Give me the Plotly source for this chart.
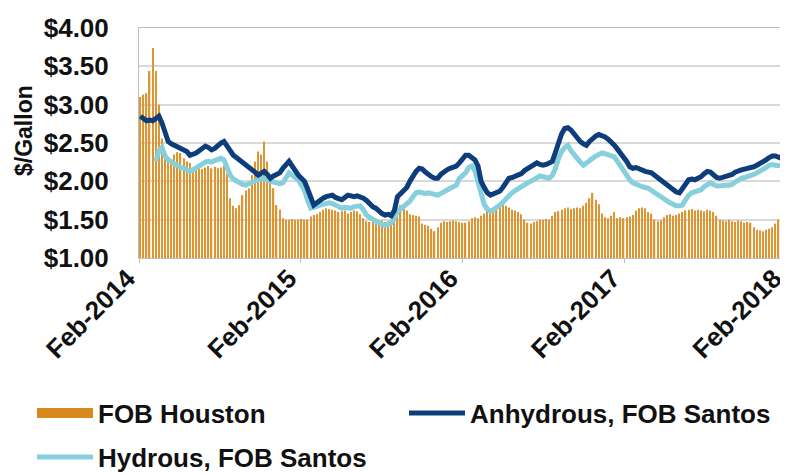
import pandas as pd
import plotly.graph_objects as go

# ---- data (weekly) ----
start_date = "2014-02-03"
n_weeks = 211
weeks = pd.date_range(start_date, periods=n_weeks, freq="7D")

fob_houston = [
    3.10, 3.13, 3.15, 3.44, 3.74, 3.44, 3.00, 2.56, 2.30, 2.26,
    2.24, 2.35, 2.38, 2.37, 2.30, 2.26, 2.24, 2.18, 2.15, 2.17,
    2.16, 2.18, 2.20, 2.17, 2.19, 2.17, 2.18, 2.20, 2.10, 1.78,
    1.68, 1.65, 1.69, 1.82, 1.88, 1.91, 2.08, 2.26, 2.39, 2.35,
    2.52, 2.26, 2.04, 1.91, 1.69, 1.63, 1.52, 1.50, 1.50, 1.51,
    1.50, 1.50, 1.51, 1.50, 1.50, 1.54, 1.56, 1.57, 1.60, 1.63,
    1.65, 1.64, 1.63, 1.62, 1.60, 1.61, 1.62, 1.58, 1.60, 1.62,
    1.61, 1.57, 1.52, 1.48, 1.47, 1.48, 1.47, 1.48, 1.49, 1.47,
    1.48, 1.50, 1.55, 1.66, 1.69, 1.68, 1.62, 1.57, 1.56, 1.55,
    1.54, 1.45, 1.43, 1.42, 1.38, 1.35, 1.40, 1.46, 1.48, 1.47,
    1.48, 1.49, 1.48, 1.47, 1.46, 1.46, 1.48, 1.52, 1.53, 1.52,
    1.55, 1.58, 1.62, 1.63, 1.66, 1.68, 1.69, 1.70, 1.68, 1.66,
    1.63, 1.62, 1.60, 1.57, 1.50, 1.46, 1.45, 1.47, 1.48, 1.50,
    1.50, 1.51, 1.50, 1.55, 1.60, 1.61, 1.63, 1.65, 1.66, 1.64,
    1.65, 1.66, 1.65, 1.68, 1.72, 1.78, 1.85, 1.76, 1.70, 1.58,
    1.53, 1.52, 1.55, 1.60, 1.52, 1.53, 1.52, 1.53, 1.54, 1.56,
    1.62, 1.65, 1.66, 1.65, 1.60, 1.58, 1.50, 1.48, 1.49, 1.53,
    1.56, 1.57, 1.55, 1.56, 1.58, 1.60, 1.62, 1.63, 1.64, 1.62,
    1.63, 1.62, 1.61, 1.63, 1.62, 1.60, 1.55, 1.50, 1.49, 1.48,
    1.50, 1.48, 1.47, 1.49, 1.48, 1.46, 1.47, 1.46, 1.40, 1.37,
    1.36, 1.35, 1.37, 1.38, 1.40, 1.45, 1.50, 1.52, 1.55, 1.58, 1.60,
]

anhydrous = [
    2.85, 2.82, 2.79, 2.80, 2.79, 2.82, 2.85, 2.76, 2.66, 2.52,
    2.49, 2.47, 2.46, 2.44, 2.41, 2.39, 2.34, 2.35, 2.37, 2.40,
    2.44, 2.46, 2.44, 2.41, 2.43, 2.47, 2.50, 2.52, 2.46, 2.40,
    2.34, 2.31, 2.28, 2.26, 2.22, 2.20, 2.17, 2.12, 2.08, 2.10,
    2.13, 2.09, 2.04, 2.07, 2.10, 2.11, 2.17, 2.22, 2.26, 2.20,
    2.13, 2.08, 2.04, 2.00, 1.90, 1.78, 1.69, 1.72, 1.76, 1.78,
    1.80, 1.81, 1.82, 1.79, 1.77, 1.76, 1.79, 1.82, 1.81, 1.80,
    1.81, 1.80, 1.78, 1.75, 1.70, 1.67, 1.65, 1.61, 1.58, 1.56,
    1.57, 1.55, 1.62, 1.80, 1.84, 1.88, 1.92, 2.00, 2.08, 2.13,
    2.17, 2.16, 2.12, 2.08, 2.06, 2.04, 2.04, 2.09, 2.13, 2.15,
    2.17, 2.18, 2.20, 2.24, 2.30, 2.34, 2.34, 2.31, 2.28, 2.20,
    2.00, 1.92, 1.85, 1.82, 1.84, 1.86, 1.87, 1.92, 1.98, 2.04,
    2.05, 2.07, 2.08, 2.10, 2.14, 2.17, 2.20, 2.22, 2.24, 2.22,
    2.21, 2.22, 2.24, 2.26, 2.38, 2.52, 2.62, 2.69, 2.70, 2.67,
    2.62, 2.56, 2.52, 2.49, 2.47, 2.52, 2.56, 2.59, 2.61, 2.60,
    2.58, 2.55, 2.52, 2.47, 2.42, 2.37, 2.33, 2.26, 2.19, 2.17,
    2.18, 2.16, 2.15, 2.13, 2.12, 2.11, 2.08, 2.05, 2.02, 1.98,
    1.95, 1.91, 1.88, 1.86, 1.85, 1.90, 1.97, 2.02, 2.03, 2.02,
    2.04, 2.06, 2.10, 2.13, 2.12, 2.08, 2.05, 2.04, 2.05, 2.06,
    2.07, 2.09, 2.12, 2.14, 2.15, 2.16, 2.17, 2.17, 2.19, 2.21,
    2.23, 2.25, 2.28, 2.31, 2.33, 2.33, 2.31, 2.30, 2.30, 2.29, 2.29,
]

hydrous = [
    None, None, None, None, None, 2.26, 2.40, 2.44, 2.33, 2.28,
    2.25, 2.22, 2.20, 2.18, 2.17, 2.14, 2.13, 2.15, 2.18, 2.21,
    2.22, 2.25, 2.26, 2.25, 2.27, 2.28, 2.30, 2.28, 2.17, 2.08,
    2.03, 2.00, 1.97, 1.96, 1.95, 1.97, 1.99, 2.00, 2.02, 2.04,
    2.03, 2.01, 2.00, 1.99, 1.98, 1.97, 1.98, 2.05, 2.11, 2.08,
    2.04, 2.02, 1.95, 1.88, 1.75, 1.65, 1.66, 1.68, 1.69, 1.70,
    1.71, 1.72, 1.71, 1.69, 1.66, 1.65, 1.66, 1.65, 1.65, 1.67,
    1.68, 1.68, 1.63, 1.56, 1.53, 1.50, 1.48, 1.46, 1.44, 1.42,
    1.44, 1.46, 1.52, 1.61, 1.64, 1.67, 1.69, 1.74, 1.80, 1.85,
    1.86, 1.85, 1.84, 1.85, 1.84, 1.83, 1.82, 1.84, 1.87, 1.89,
    1.91, 1.93, 1.95, 2.04, 2.08, 2.11, 2.18, 2.20, 2.14, 2.00,
    1.82, 1.70, 1.64, 1.61, 1.63, 1.66, 1.68, 1.72, 1.77, 1.82,
    1.85, 1.88, 1.91, 1.93, 1.95, 1.98, 2.00, 2.03, 2.05, 2.07,
    2.06, 2.05, 2.04, 2.08, 2.17, 2.30, 2.39, 2.44, 2.47, 2.40,
    2.34, 2.30, 2.25, 2.21, 2.24, 2.28, 2.30, 2.33, 2.35, 2.37,
    2.36, 2.35, 2.34, 2.32, 2.26, 2.20, 2.13, 2.07, 2.02, 1.98,
    1.96, 1.94, 1.93, 1.92, 1.91, 1.88, 1.85, 1.82, 1.79, 1.77,
    1.74, 1.72, 1.70, 1.68, 1.68, 1.69, 1.76, 1.82, 1.85, 1.86,
    1.88, 1.89, 1.93, 1.96, 1.98, 1.96, 1.94, 1.94, 1.95, 1.95,
    1.95, 1.96, 1.99, 2.02, 2.04, 2.05, 2.06, 2.08, 2.09, 2.11,
    2.13, 2.15, 2.18, 2.21, 2.22, 2.21, 2.20, 2.20, 2.21, 2.23, 2.24,
]

tick_dates = ["2014-02-01", "2015-02-01", "2016-02-01", "2017-02-01", "2018-02-01"]
tick_labels = ["Feb-2014", "Feb-2015", "Feb-2016", "Feb-2017", "Feb-2018"]
y_ticks = [1.0, 1.5, 2.0, 2.5, 3.0, 3.5, 4.0]
y_labels = ["$1.00", "$1.50", "$2.00", "$2.50", "$3.00", "$3.50", "$4.00"]
y_title = "$/Gallon"

ORANGE = "#D8881E"
BAR_ORANGE = "#DC9530"
DARK = "#0E3D7B"
LIGHT = "#86CFDD"
FONT = "Liberation Sans, Arial, sans-serif"
TXT = "#111111"

fig = go.Figure()
fig.add_trace(go.Bar(x=weeks, y=fob_houston, name="FOB Houston",
                     marker=dict(color=BAR_ORANGE, line=dict(width=0)),
                     showlegend=False))
fig.add_trace(go.Scatter(x=weeks, y=hydrous, name="Hydrous, FOB Santos", mode="lines",
                         line=dict(color=LIGHT, width=5), legend="legend3"))
fig.add_trace(go.Scatter(x=weeks, y=anhydrous, name="Anhydrous, FOB Santos", mode="lines",
                         line=dict(color=DARK, width=5), legend="legend2"))
# legend entry for the bars (wide swatch); no marks drawn
fig.add_trace(go.Scatter(x=weeks[:1], y=[None], name="FOB Houston", mode="lines",
                         line=dict(color=ORANGE, width=12), legend="legend"))

legend_common = dict(xref="container", yref="container", xanchor="left", yanchor="middle",
                     font=dict(family=FONT, size=26, color=TXT, weight="bold"),
                     itemwidth=56, bgcolor="rgba(0,0,0,0)", borderwidth=0)

fig.update_layout(
    width=788, height=474,
    margin=dict(l=131, r=2, t=20, b=224, autoexpand=False),
    paper_bgcolor="white", plot_bgcolor="white",
    bargap=0.58,
    font=dict(family=FONT, color=TXT),
    legend=dict(x=24 / 788, y=1 - 405 / 474, **legend_common),
    legend2=dict(x=396 / 788, y=1 - 405 / 474, **legend_common),
    legend3=dict(x=24 / 788, y=1 - 449 / 474, **legend_common),
    xaxis=dict(
        type="date", range=["2014-01-31", "2018-02-19"], autorange=False,
        tickvals=tick_dates, ticktext=tick_labels, tickangle=-45,
        tickfont=dict(family=FONT, size=26, color=TXT, weight="bold"),
        showgrid=False, showline=True, linecolor="#BFBFBF", linewidth=1, mirror=True,
        ticks="outside", ticklen=4, tickcolor="#BFBFBF", automargin=False,
        ticklabeloverflow="allow", ticklabelshift=-12, ticklabelstandoff=-10,
    ),
    yaxis=dict(
        range=[1, 4], autorange=False, tickvals=y_ticks, ticktext=y_labels,
        tickfont=dict(family=FONT, size=26, color=TXT, weight="bold"),
        showgrid=True, gridcolor="#D9D9D9", gridwidth=1.5,
        showline=True, linecolor="#BFBFBF", linewidth=1, mirror=True,
        ticks="", automargin=False, ticklabelstandoff=24,
    ),
    annotations=[dict(
        text=y_title, textangle=-90, showarrow=False,
        xref="paper", yref="paper", x=(16 - 131) / 655, y=(250 - 123) / 230,
        xanchor="center", yanchor="middle",
        font=dict(family=FONT, size=23, color=TXT, weight="bold"),
    )],
)

fig.write_html("out.html")
